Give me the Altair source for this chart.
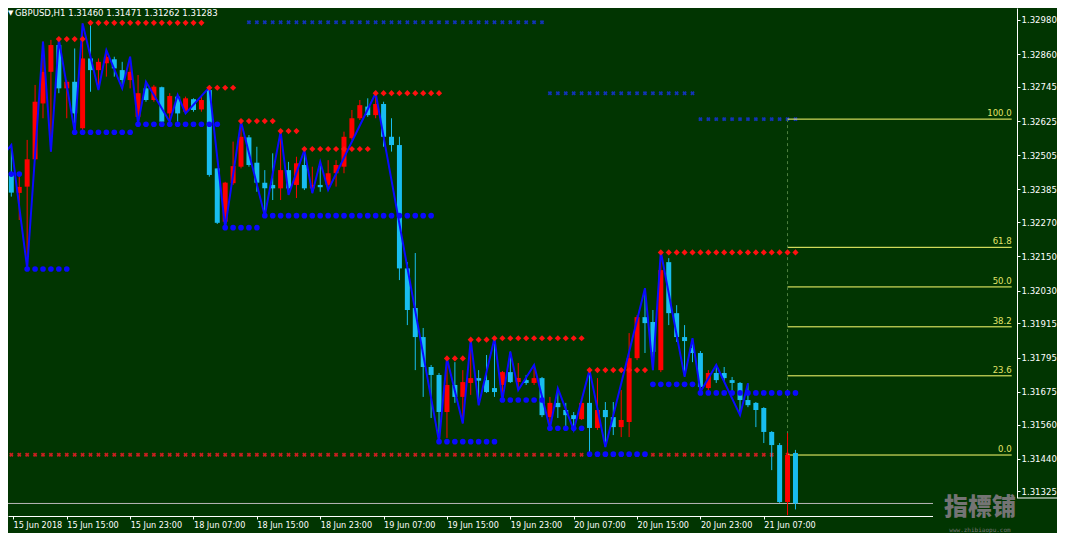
import altair as alt
import pandas as pd

# ---------------- data ----------------
bars = list(range(-1, 100))  # bar index, 0 = 15 Jun 08:00 (H1)
opens = [1.32459, 1.32442, 1.32373, 1.32395, 1.32491, 1.32687, 1.32798, 1.32892, 1.32740, 1.32763,
         1.32600, 1.32845, 1.32804, 1.32828, 1.32842, 1.32804, 1.32769, 1.32640, 1.32740, 1.32699,
         1.32744, 1.32652, 1.32711, 1.32658, 1.32702, 1.32666, 1.32734, 1.32459, 1.32272, 1.32407,
         1.32465, 1.32568, 1.32479, 1.32409, 1.32401, 1.32389, 1.32453, 1.32401, 1.32471, 1.32389,
         1.32401, 1.32401, 1.32442, 1.32465, 1.32565, 1.32635, 1.32676, 1.32646, 1.32685, 1.32570,
         1.32541, 1.32108, 1.31969, 1.31867, 1.31762, 1.31734, 1.31604, 1.31699, 1.31657, 1.31706,
         1.31723, 1.31716, 1.31688, 1.31699, 1.31744, 1.31709, 1.31716, 1.31706, 1.31723, 1.31586,
         1.31636, 1.31611, 1.31593, 1.31579, 1.31636, 1.31548, 1.31611, 1.31586, 1.31551, 1.31569,
         1.31793, 1.31937, 1.31920, 1.31751, 1.32130, 1.31951, 1.31867, 1.31829, 1.31811, 1.31688,
         1.31741, 1.31741, 1.31716, 1.31706, 1.31646, 1.31636, 1.31618, 1.31534, 1.31488, 1.31288,
         1.31460]
highs = [1.32523, 1.32541, 1.32430, 1.32559, 1.32752, 1.32904, 1.32910, 1.32912, 1.32769, 1.32880,
         1.32968, 1.32962, 1.32845, 1.32874, 1.32851, 1.32833, 1.32851, 1.32787, 1.32763, 1.32752,
         1.32746, 1.32723, 1.32717, 1.32711, 1.32705, 1.32711, 1.32744, 1.32459, 1.32412, 1.32553,
         1.32623, 1.32576, 1.32535, 1.32453, 1.32512, 1.32588, 1.32482, 1.32500, 1.32523, 1.32465,
         1.32482, 1.32488, 1.32488, 1.32588, 1.32664, 1.32699, 1.32705, 1.32723, 1.32693, 1.32635,
         1.32570, 1.32130, 1.32162, 1.31899, 1.31769, 1.31741, 1.31792, 1.31779, 1.31751, 1.31857,
         1.31751, 1.31804, 1.31863, 1.31748, 1.31816, 1.31776, 1.31734, 1.31769, 1.31727, 1.31657,
         1.31687, 1.31636, 1.31604, 1.31653, 1.31751, 1.31723, 1.31639, 1.31639, 1.31681, 1.31881,
         1.31944, 1.32038, 1.31962, 1.32167, 1.32144, 1.31979, 1.31909, 1.31863, 1.31818, 1.31751,
         1.31769, 1.31762, 1.31727, 1.31709, 1.31705, 1.31639, 1.31621, 1.31537, 1.31495, 1.31530,
         1.31471]
lows = [1.32446, 1.32360, 1.32278, 1.32109, 1.32488, 1.32635, 1.32518, 1.32723, 1.32635, 1.32588,
        1.32594, 1.32728, 1.32734, 1.32781, 1.32781, 1.32740, 1.32740, 1.32617, 1.32693, 1.32693,
        1.32617, 1.32623, 1.32623, 1.32652, 1.32658, 1.32658, 1.32430, 1.32264, 1.32251, 1.32401,
        1.32459, 1.32465, 1.32377, 1.32293, 1.32348, 1.32348, 1.32366, 1.32355, 1.32383, 1.32372,
        1.32377, 1.32383, 1.32395, 1.32442, 1.32559, 1.32629, 1.32640, 1.32635, 1.32535, 1.32518,
        1.32067, 1.31909, 1.31751, 1.31657, 1.31583, 1.31500, 1.31513, 1.31636, 1.31564, 1.31664,
        1.31628, 1.31671, 1.31657, 1.31646, 1.31706, 1.31681, 1.31699, 1.31699, 1.31586, 1.31547,
        1.31583, 1.31548, 1.31541, 1.31576, 1.31457, 1.31541, 1.31481, 1.31523, 1.31516, 1.31516,
        1.31786, 1.31811, 1.31751, 1.31744, 1.31909, 1.31850, 1.31728, 1.31779, 1.31675, 1.31681,
        1.31706, 1.31709, 1.31674, 1.31593, 1.31621, 1.31551, 1.31495, 1.31400, 1.31285, 1.31242,
        1.31262]
closes = [1.32506, 1.32374, 1.32394, 1.32491, 1.32693, 1.32798, 1.32892, 1.32740, 1.32763, 1.32652,
          1.32845, 1.32804, 1.32833, 1.32851, 1.32810, 1.32769, 1.32798, 1.32723, 1.32699, 1.32746,
          1.32623, 1.32713, 1.32652, 1.32705, 1.32664, 1.32699, 1.32436, 1.32268, 1.32409, 1.32467,
          1.32570, 1.32471, 1.32409, 1.32389, 1.32389, 1.32453, 1.32389, 1.32477, 1.32389, 1.32401,
          1.32393, 1.32442, 1.32471, 1.32570, 1.32635, 1.32681, 1.32646, 1.32685, 1.32570, 1.32541,
          1.32108, 1.31962, 1.31867, 1.31762, 1.31734, 1.31604, 1.31699, 1.31657, 1.31709, 1.31723,
          1.31714, 1.31674, 1.31674, 1.31744, 1.31709, 1.31723, 1.31706, 1.31723, 1.31593, 1.31636,
          1.31621, 1.31593, 1.31579, 1.31636, 1.31548, 1.31611, 1.31586, 1.31551, 1.31576, 1.31793,
          1.31937, 1.31916, 1.31815, 1.32102, 1.31951, 1.31867, 1.31853, 1.31811, 1.31692, 1.31741,
          1.31716, 1.31723, 1.31706, 1.31646, 1.31628, 1.31611, 1.31534, 1.31488, 1.31288, 1.31453,
          1.31283]

# zigzag pivots
zz_bars = [-1, 0, 2, 4, 5, 6, 8, 9, 11, 12, 14, 15, 16, 17, 20, 21, 22, 25, 27, 29, 32, 34, 35,
           37, 38, 39, 40, 46, 54, 55, 57, 58, 59, 61, 62, 63, 64, 66, 68, 69, 71, 73, 75, 80,
           81, 82, 85, 86, 87, 89, 92, 93]
zz_prices = [1.32506, 1.32541, 1.32109, 1.32904, 1.32518, 1.32912, 1.32588, 1.32968, 1.32734,
             1.32874, 1.32740, 1.32851, 1.32617, 1.32763, 1.32623, 1.32717, 1.32652, 1.32744,
             1.32251, 1.32623, 1.32293, 1.32588, 1.32366, 1.32523, 1.32372, 1.32482, 1.32383,
             1.32723, 1.31500, 1.31792, 1.31564, 1.31857, 1.31628, 1.31863, 1.31646, 1.31816,
             1.31681, 1.31769, 1.31547, 1.31687, 1.31541, 1.31751, 1.31481, 1.32038, 1.31751,
             1.32167, 1.31728, 1.31863, 1.31675, 1.31769, 1.31593, 1.31705]

# resistance (red diamonds)
res_levels = [1.32913, 1.32970, 1.32742, 1.32625, 1.32590, 1.32527, 1.32723, 1.31792, 1.31858,
              1.31863, 1.31751, 1.32164]
res_from = [6, 10, 25, 29, 34, 37, 46, 55, 58, 61, 73, 82]
res_to = [9, 24, 28, 33, 36, 45, 54, 57, 60, 72, 80, 99]

# support (blue dots)
sup_levels = [1.32439, 1.32106, 1.32586, 1.32614, 1.32251, 1.32293, 1.31500, 1.31646, 1.31547,
              1.31456, 1.31701, 1.31671]
sup_from = [-1, 2, 8, 16, 27, 32, 54, 62, 68, 73, 81, 87]
sup_to = [1, 7, 15, 26, 31, 53, 61, 67, 72, 80, 86, 99]

# higher timeframe levels (dark blue crosses)
htf_levels = [1.32972, 1.32723, 1.32632]
htf_from = [30, 68, 87]
htf_to = [67, 86, 99]

# pivot line (red crosses)
pivot_level = 1.31454
pivot_from, pivot_to = -1, 99

# fibonacci
fib_labels = ["0.0", "23.6", "38.2", "50.0", "61.8", "100.0"]
fib_prices = [1.31453, 1.31731, 1.31903, 1.32043, 1.32182, 1.32632]
fib_start_bar = 98
fib_end_bar = 126.3

bid_price = 1.31283
title_text = "GBPUSD,H1  1.31460 1.31471 1.31262 1.31283"
watermark = "指標铺"
watermark_url = "www.zhibiaopu.com"

x_tick_bars = [7, 15, 23, 31, 39, 47, 55, 63, 71, 79, 87, 95]
x_tick_labels = ["15 Jun 15:00", "15 Jun 23:00", "18 Jun 07:00", "18 Jun 15:00", "18 Jun 23:00",
                 "19 Jun 07:00", "19 Jun 15:00", "19 Jun 23:00", "20 Jun 07:00", "20 Jun 15:00",
                 "20 Jun 23:00", "21 Jun 07:00"]
first_label = "15 Jun 2018"
y_ticks = [1.31325, 1.31440, 1.31560, 1.31675, 1.31795, 1.31915, 1.32030, 1.32150, 1.32270,
           1.32385, 1.32505, 1.32625, 1.32745, 1.32860, 1.32980]

# ---------------- styling ----------------
BG = "#013501"
FONT = "DejaVu Sans Condensed"
UP = "#ff0000"
DOWN = "#18bdf0"
PLOT_W = 1009
PLOT_H = 508
X_DOMAIN = [0.2125, 0.2125 + PLOT_W / 8]
Y_DOMAIN = [1.31239, 1.33022]

xs = alt.Scale(domain=X_DOMAIN, nice=False, zero=False)
ys = alt.Scale(domain=Y_DOMAIN, nice=False, zero=False)

label_arr = "[" + ",".join("'" + s + "'" for s in x_tick_labels) + "]"
x_label_expr = ("datum.value < 1 ? '" + first_label + "' : " + label_arr +
                "[round((datum.value - " + str(x_tick_bars[0]) + ") / 8)]")

x_axis = alt.Axis(values=[X_DOMAIN[0]] + x_tick_bars, labelExpr=x_label_expr, labelAlign="left",
                  labelBaseline="top", labelPadding=1, labelFlush=False, labelOverlap=False,
                  labelBound=False, labelColor="white", labelFont=FONT, labelFontSize=9,
                  tickColor="white", tickSize=3, domainColor="white", grid=False, title=None)
y_axis = alt.Axis(orient="right", values=y_ticks, format=".5f", labelColor="white",
                  labelFont=FONT, labelFontSize=9.5, labelPadding=1, labelOverlap=False,
                  labelFlush=False, tickColor="white", tickSize=3, domainColor="white",
                  grid=False, title=None)


def expand(levels, starts, ends):
    rows = []
    for lv, s, e in zip(levels, starts, ends):
        for k in range(s, e + 1):
            rows.append({"k": k, "p": lv})
    return pd.DataFrame(rows)


candles = pd.DataFrame({"k": bars, "open": opens, "high": highs, "low": lows, "close": closes})
candles["dir"] = ["up" if c >= o else "down" for o, c in zip(opens, closes)]
cscale = alt.Scale(domain=["up", "down"], range=[UP, DOWN])

zz = pd.DataFrame({"k": zz_bars, "p": zz_prices})
res_df = expand(res_levels, res_from, res_to)
sup_df = expand(sup_levels, sup_from, sup_to)
htf_df = expand(htf_levels, htf_from, htf_to)
piv_df = expand([pivot_level], [pivot_from], [pivot_to])
fib_df = pd.DataFrame({"label": fib_labels, "p": fib_prices,
                       "k0": [fib_start_bar] * len(fib_labels),
                       "k1": [fib_end_bar] * len(fib_labels)})
one = pd.DataFrame({"t": [title_text]})


def X(field):
    return alt.X(field, type="quantitative", scale=xs, axis=x_axis)


def Y(field):
    return alt.Y(field, type="quantitative", scale=ys, axis=y_axis)


pivot_layer = alt.Chart(piv_df).mark_point(shape="cross", angle=45, filled=True, size=20,
                                           color="#c82020", opacity=1, clip=True).encode(
    x=X("k"), y=Y("p"))

htf_layer = alt.Chart(htf_df).mark_point(shape="cross", angle=45, filled=True, size=20,
                                         color="#1234b8", opacity=1, clip=True).encode(
    x=X("k"), y=Y("p"))

bid_layer = alt.Chart(pd.DataFrame({"p": [bid_price]})).mark_rule(
    color="#b8b8b8", strokeWidth=1).encode(y=Y("p"))

fib_lines = alt.Chart(fib_df).mark_rule(color="#ffff70", strokeWidth=1, clip=True).encode(
    x=X("k0"), x2="k1", y=Y("p"))

fib_vert = alt.Chart(pd.DataFrame({"k": [fib_start_bar], "a": [fib_prices[-1]],
                                   "b": [fib_prices[0]]})).mark_rule(
    color="#4f8040", strokeWidth=1, strokeDash=[3, 3]).encode(x=X("k"), y=Y("a"), y2="b")

fib_text = alt.Chart(fib_df).mark_text(align="right", baseline="bottom", dy=-1, font=FONT,
                                       fontSize=9.5, color="#e4e46a").encode(
    x=X("k1"), y=Y("p"), text="label:N")

wicks = alt.Chart(candles).mark_rule(strokeWidth=1, clip=True).encode(
    x=X("k"), y=Y("low"), y2="high",
    color=alt.Color("dir:N", scale=cscale, legend=None))

bodies = alt.Chart(candles).mark_bar(size=5, clip=True).encode(
    x=X("k"), y=Y("open"), y2="close",
    color=alt.Color("dir:N", scale=cscale, legend=None))

zz_layer = alt.Chart(zz).mark_line(color="#0a0aff", strokeWidth=2, clip=True).encode(
    x=X("k"), y=Y("p"))

sup_layer = alt.Chart(sup_df).mark_point(shape="circle", filled=True, size=32, color="#0a0aff",
                                         opacity=1, clip=True).encode(x=X("k"), y=Y("p"))

res_layer = alt.Chart(res_df).mark_point(shape="diamond", filled=True, size=38, color="#ff1010",
                                         opacity=1, clip=True).encode(x=X("k"), y=Y("p"))

title_layer = alt.Chart(one).mark_text(align="left", baseline="top", font=FONT, fontSize=9.5,
                                       color="white").encode(
    x=alt.value(7), y=alt.value(0), text="t:N")
tri_layer = alt.Chart(pd.DataFrame({"t": ["▼"]})).mark_text(
    align="left", baseline="top", font="DejaVu Sans", fontSize=7, color="white").encode(
    x=alt.value(0), y=alt.value(1), text="t:N")

wm_box = alt.Chart(one).mark_rect(color=BG).encode(
    x=alt.value(925), x2=alt.value(1049), y=alt.value(490), y2=alt.value(525))
wm_edge = alt.Chart(one).mark_rule(color="white", strokeWidth=1).encode(
    x=alt.value(PLOT_W), x2=alt.value(1049), y=alt.value(490))
wm_text = alt.Chart(pd.DataFrame({"t": [watermark]})).mark_text(
    align="center", baseline="middle", font="Noto Sans CJK TC", fontWeight=900, fontSize=24,
    color="#747474").encode(x=alt.value(972), y=alt.value(500), text="t:N")
wm_url = alt.Chart(pd.DataFrame({"t": [watermark_url]})).mark_text(
    align="center", baseline="middle", font="DejaVu Sans Mono", fontSize=6,
    color="#747474").encode(x=alt.value(972), y=alt.value(521.5), text="t:N")

chart = alt.layer(
    pivot_layer, htf_layer, bid_layer, fib_lines, fib_vert, fib_text,
    wicks, bodies, zz_layer, sup_layer, res_layer,
    title_layer, tri_layer, wm_box, wm_edge, wm_text, wm_url
).properties(
    width=PLOT_W, height=PLOT_H,
    padding={"left": 0, "top": 0, "right": 40, "bottom": 17},
    autosize=alt.AutoSizeParams(type="none"),
    background=BG,
).configure_view(fill=BG, stroke="transparent")

chart.save("out.html", embed_options={"renderer": "svg", "actions": False})
